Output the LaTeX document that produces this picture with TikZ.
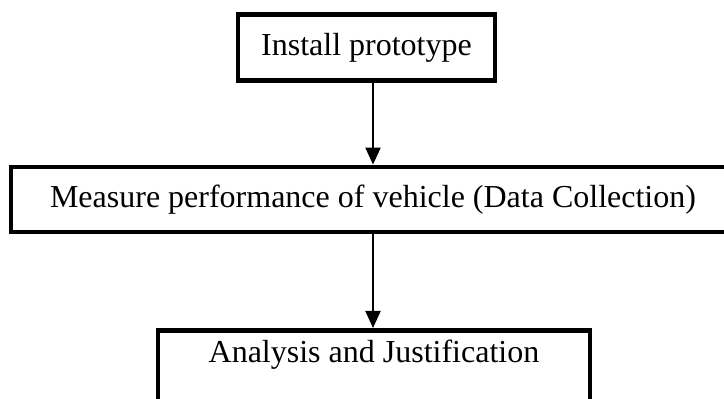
\documentclass[tikz,border=0pt]{standalone}
\usepackage{fontspec}
\setmainfont{Liberation Serif}
\usetikzlibrary{arrows.meta}
\begin{document}
\begin{tikzpicture}[
    x=0.5pt, y=-0.5pt,
    every node/.style={align=center, font=\fontsize{16}{19}\selectfont},
    stage box/.style={draw, line width=2.4pt, inner sep=0pt, minimum height=33pt},
    flow arrow/.style={draw, line width=1pt, -{Triangle[width=7.5pt,length=8.5pt]}},
    ]
\useasboundingbox (0,0) rectangle (724,399);
\node[stage box, minimum width=128.5pt] (install) at (366.5,47.5) {Install prototype};
\node[stage box, minimum width=362pt, minimum height=32.5pt] (measure) at (373,199.5) {Measure performance of vehicle (Data Collection)};
\node[stage box, minimum width=216pt, minimum height=0pt, anchor=north, text height=16pt, text depth=40pt] (analysis) at (374,328) {Analysis and Justification};
\draw[flow arrow] (install.south -| measure.north) -- (measure.north);
\draw[flow arrow] (measure.south) -- (measure.south |- analysis.north);
\end{tikzpicture}
\end{document}
